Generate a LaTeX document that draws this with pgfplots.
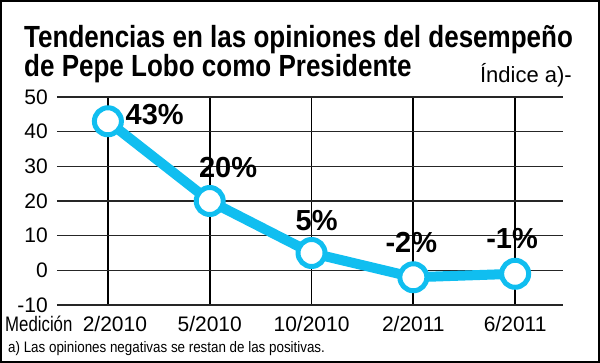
\documentclass[border=0pt]{standalone}
\usepackage{fontspec}
\setmainfont{Liberation Sans}
\newfontfamily\condfont{Liberation Sans}[FakeStretch=0.85]
\newfontfamily\narrowfont{Liberation Sans}[FakeStretch=0.8]
\newfontfamily\notefont{Liberation Sans}[FakeStretch=0.88]
\usepackage{pgfplots}
\pgfplotsset{compat=1.18}
\definecolor{lineblue}{RGB}{16,190,240}

\begin{document}
\begin{tikzpicture}[x=1pt,y=1pt]
\draw[line width=2pt] (1,1) rectangle (599,362);
\node[anchor=base west, inner sep=0pt, font=\condfont\bfseries\fontsize{30.6}{31}\selectfont] at (24,315) {Tendencias en las opiniones del desempeño};
\node[anchor=base west, inner sep=0pt, font=\condfont\bfseries\fontsize{30.6}{31}\selectfont] at (24,286) {de Pepe Lobo como Presidente};
\node[anchor=base east, inner sep=0pt, font=\fontsize{22}{24}\selectfont] at (572,280) {Índice a)-};
\node[anchor=base west, inner sep=0pt, font=\narrowfont\fontsize{21}{23}\selectfont] at (5,31.5) {Medición};
\node[anchor=base west, inner sep=0pt, font=\notefont\fontsize{15.2}{17}\selectfont] at (8,10) {a) Las opiniones negativas se restan de las positivas.};
\begin{axis}[
  at={(57pt,58pt)}, anchor=south west,
  scale only axis, width=506pt, height=208pt,
  xmin=-0.5, xmax=4.47, ymin=-10, ymax=50,
  ytick={-10,0,10,20,30,40,50},
  xtick={0,1,2,3,4},
  xticklabels={\hspace*{14pt}2/2010,5/2010,10/2010,2/2011,6/2011},
  axis line style={draw=none},
  major tick length=0pt,
  xmajorgrids, ymajorgrids,
  x grid style={black, line width=1.8pt},
  y grid style={black!85, line width=1.2pt},
  ticklabel style={font=\fontsize{21}{23}\selectfont, inner sep=0pt},
  /pgf/number format/assume math mode=true,
  yticklabel style={anchor=east, xshift=-9pt},
  xticklabel style={anchor=base, yshift=-26.5pt},
  clip=false,
]
\addplot[lineblue, line width=10pt, line join=round, mark=*, mark size=13.5pt,
  mark options={fill=white, draw=lineblue, line width=5pt}]
  coordinates {(0,43) (1,20) (2,5) (3,-2) (4,-1)};
\node[font=\bfseries\fontsize{29}{30}\selectfont] at (axis cs:0.46,45) {43\%};
\node[font=\bfseries\fontsize{29}{30}\selectfont] at (axis cs:1.18,29.8) {20\%};
\node[font=\bfseries\fontsize{29}{30}\selectfont] at (axis cs:2.05,14.5) {5\%};
\node[font=\bfseries\fontsize{29}{30}\selectfont] at (axis cs:2.98,8.1) {-2\%};
\node[font=\bfseries\fontsize{29}{30}\selectfont] at (axis cs:3.97,9.2) {-1\%};
\end{axis}
\end{tikzpicture}
\end{document}
